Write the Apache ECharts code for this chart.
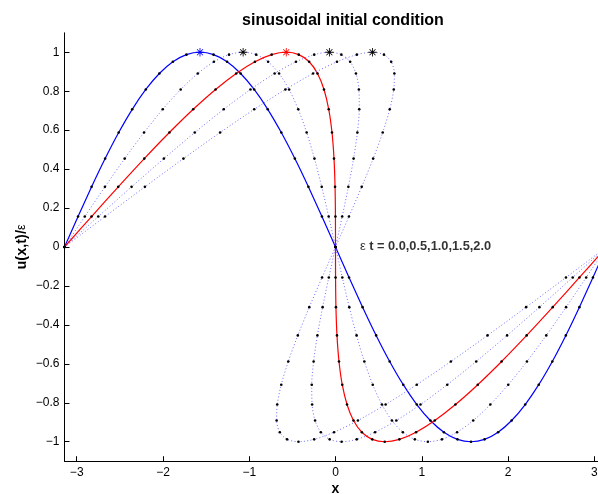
<!DOCTYPE html>
<html>
<head>
<meta charset="utf-8">
<script src="https://cdn.jsdelivr.net/npm/echarts@6/dist/echarts.min.js"></script>
<style>
html,body{margin:0;padding:0;background:#fff;}
#chart{width:598px;height:494px;}
</style>
</head>
<body>
<div id="chart"></div>
<script>
// u values at the 41 grid points (shared by every curve)
const uVals = [0,0.1564,0.309,0.454,0.5878,0.7071,0.809,0.891,0.9511,0.9877,1,0.9877,0.9511,0.891,0.809,0.7071,0.5878,0.454,0.309,0.1564,0,-0.1564,-0.309,-0.454,-0.5878,-0.7071,-0.809,-0.891,-0.9511,-0.9877,-1,-0.9877,-0.9511,-0.891,-0.809,-0.7071,-0.5878,-0.454,-0.309,-0.1564,0];
// x positions of the grid points at eps*t = 0.0, 0.5, 1.0, 1.5, 2.0
const xT00 = [-3.1416,-2.9845,-2.8274,-2.6704,-2.5133,-2.3562,-2.1991,-2.042,-1.885,-1.7279,-1.5708,-1.4137,-1.2566,-1.0996,-0.9425,-0.7854,-0.6283,-0.4712,-0.3142,-0.1571,0,0.1571,0.3142,0.4712,0.6283,0.7854,0.9425,1.0996,1.2566,1.4137,1.5708,1.7279,1.885,2.042,2.1991,2.3562,2.5133,2.6704,2.8274,2.9845,3.1416];
const xT05 = [-3.1416,-2.9063,-2.6729,-2.4434,-2.2194,-2.0026,-1.7946,-1.5965,-1.4095,-1.2341,-1.0708,-0.9199,-0.7811,-0.6541,-0.538,-0.4318,-0.3344,-0.2442,-0.1597,-0.0789,0,0.0789,0.1597,0.2442,0.3344,0.4318,0.538,0.6541,0.7811,0.9199,1.0708,1.2341,1.4095,1.5965,1.7946,2.0026,2.2194,2.4434,2.6729,2.9063,3.1416];
const xT10 = [-3.1416,-2.8281,-2.5184,-2.2164,-1.9255,-1.6491,-1.3901,-1.151,-0.9339,-0.7402,-0.5708,-0.426,-0.3055,-0.2086,-0.1335,-0.0783,-0.0405,-0.0172,-0.0052,-0.0007,0,0.0007,0.0052,0.0172,0.0405,0.0783,0.1335,0.2086,0.3055,0.426,0.5708,0.7402,0.9339,1.151,1.3901,1.6491,1.9255,2.2164,2.5184,2.8281,3.1416];
const xT15 = [-3.1416,-2.7499,-2.3639,-1.9894,-1.6316,-1.2955,-0.9856,-0.7055,-0.4584,-0.2464,-0.0708,0.0678,0.17,0.2369,0.271,0.2753,0.2534,0.2098,0.1493,0.0775,0,-0.0775,-0.1493,-0.2098,-0.2534,-0.2753,-0.271,-0.2369,-0.17,-0.0678,0.0708,0.2464,0.4584,0.7055,0.9856,1.2955,1.6316,1.9894,2.3639,2.7499,3.1416];
const xT20 = [-3.1416,-2.6716,-2.2094,-1.7624,-1.3377,-0.942,-0.5811,-0.26,0.0171,0.2475,0.4292,0.5617,0.6455,0.6824,0.6755,0.6288,0.5473,0.4368,0.3038,0.1558,0,-0.1558,-0.3038,-0.4368,-0.5473,-0.6288,-0.6755,-0.6824,-0.6455,-0.5617,-0.4292,-0.2475,-0.0171,0.26,0.5811,0.942,1.3377,1.7624,2.2094,2.6716,3.1416];
const peakIndex = 10;
// tick values and labels
const xTicks = [-3,-2,-1,0,1,2,3];
const xTickLabels = ['\u22123','\u22122','\u22121','0','1','2','3'];
const yTicks = [-1,-0.8,-0.6,-0.4,-0.2,0,0.2,0.4,0.6,0.8,1];
const yTickLabels = ['\u22121','\u22120.8','\u22120.6','\u22120.4','\u22120.2','0','0.2','0.4','0.6','0.8','1'];
const titleText = 'sinusoidal initial condition';
const annotationPos = [0.284, 0.005];

const FONT = '"Liberation Sans", Arial, Helvetica, sans-serif';
const STAR = 'path://M9,0L11,0L11,20L9,20Z M0,9L20,9L20,11L0,11Z M2.3,3.7L3.7,2.3L17.7,16.3L16.3,17.7Z M16.3,2.3L17.7,3.7L3.7,17.7L2.3,16.3Z';

function buildData(xs, starColor) {
  return xs.map((x, i) => {
    if (i === peakIndex) {
      return {value: [x, uVals[i]], symbol: STAR, symbolSize: 8.5, itemStyle: {color: starColor}};
    }
    return [x, uVals[i]];
  });
}

function curve(name, xs, lineStyle, starColor) {
  return {
    name: name,
    type: 'line',
    data: buildData(xs, starColor),
    smooth: 0.3,
    showSymbol: true,
    symbol: 'circle',
    symbolSize: 2.6,
    itemStyle: {color: '#000'},
    lineStyle: lineStyle,
    z: 2,
    silent: true,
    animation: false
  };
}

const dotted = {color: '#6f6fff', width: 1, type: [1, 2.2]};

const chart = echarts.init(document.getElementById('chart'), null, {renderer: 'canvas'});
chart.setOption({
  backgroundColor: '#fff',
  animation: false,
  title: {
    text: titleText,
    left: 338,
    textAlign: 'center',
    top: 7.5,
    textStyle: {fontFamily: FONT, fontWeight: 'bold', fontSize: 16, color: '#000'}
  },
  grid: {left: 64.5, right: -8.5, top: 32.8, bottom: 32.8, containLabel: false, outerBoundsMode: 'none'},
  xAxis: {
    type: 'value',
    min: -Math.PI,
    max: Math.PI,
    name: 'x',
    nameLocation: 'middle',
    nameGap: 20.5,
    nameMoveOverlap: false,
    nameTextStyle: {fontFamily: FONT, fontWeight: 'bold', fontSize: 14, color: '#000'},
    axisLine: {show: true, onZero: false, lineStyle: {color: '#000', width: 1}},
    axisTick: {show: true, inside: true, length: 5, customValues: xTicks, lineStyle: {color: '#000'}},
    axisLabel: {
      show: true, customValues: xTicks, margin: 5,
      fontFamily: FONT, fontSize: 12, color: '#000',
      formatter: v => xTickLabels[xTicks.findIndex(t => Math.abs(t - v) < 1e-9)]
    },
    splitLine: {show: false}
  },
  yAxis: {
    type: 'value',
    min: -1.1,
    max: 1.1,
    name: '{b|u(x,t)/}{e|\u03b5}',
    nameLocation: 'middle',
    nameGap: 35,
    nameMoveOverlap: false,
    nameRotate: 90,
    nameTextStyle: {
      fontFamily: FONT, fontSize: 14.5, color: '#000',
      rich: {
        b: {fontFamily: FONT, fontWeight: 'bold', fontSize: 14.5, color: '#000'},
        e: {fontFamily: FONT, fontWeight: 'normal', fontSize: 12.5, color: '#000'}
      }
    },
    axisLine: {show: true, onZero: false, lineStyle: {color: '#000', width: 1}},
    axisTick: {show: true, inside: true, length: 5, customValues: yTicks, lineStyle: {color: '#000'}},
    axisLabel: {
      show: true, customValues: yTicks, margin: 5,
      fontFamily: FONT, fontSize: 12, color: '#000',
      formatter: v => yTickLabels[yTicks.findIndex(t => Math.abs(t - v) < 1e-9)]
    },
    splitLine: {show: false}
  },
  series: [
    curve('t=0.0', xT00, {color: '#0000ff', width: 1.2}, '#0000ff'),
    curve('t=0.5', xT05, dotted, '#000'),
    curve('t=1.0', xT10, {color: '#ff0000', width: 1.2}, '#ff0000'),
    curve('t=1.5', xT15, dotted, '#000'),
    curve('t=2.0', xT20, dotted, '#000'),
    {
      type: 'scatter',
      data: [annotationPos],
      symbolSize: 0,
      silent: true,
      label: {
        show: true,
        position: 'right',
        distance: 0,
        formatter: '{e|\u03b5} {b|t = 0.0,0.5,1.0,1.5,2.0}',
        rich: {
          e: {fontFamily: FONT, fontSize: 13, color: '#000'},
          b: {fontFamily: FONT, fontWeight: 'bold', fontSize: 12.8, color: '#000'}
        }
      },
      z: 5
    }
  ]
});
</script>
</body>
</html>
